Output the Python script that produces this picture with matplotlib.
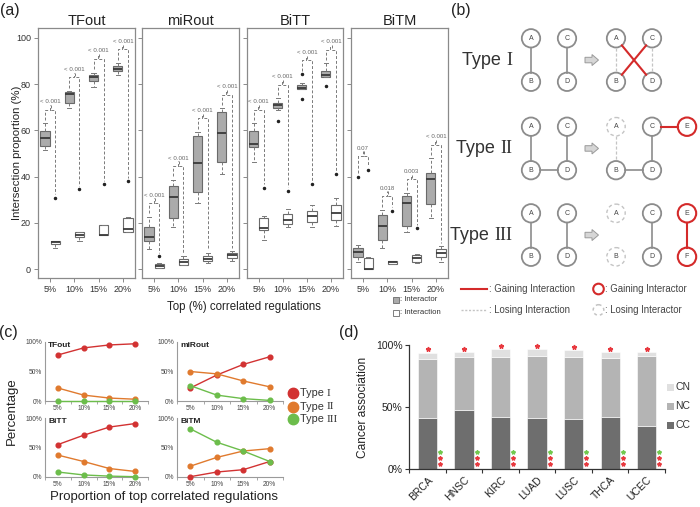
import numpy as np
import matplotlib.pyplot as plt
from matplotlib.patches import Circle, FancyArrow, Rectangle

plt.rcParams['font.family'] = ['Liberation Sans', 'DejaVu Sans']
plt.rcParams['mathtext.fontset'] = 'stix'

# ---------------- (a) box plots ----------------
panels = ['TFout', 'miRout', 'BiTT', 'BiTM']
pct = ['5%', '10%', '15%', '20%']

# [whislo, q1, med, q3, whishi] for each top-% level
tfout_actor = [[51.5, 53.2, 56.6, 59.7, 63.0], [69.8, 71.7, 75.7, 76.7, 77.0],
               [78.9, 81.4, 82.9, 83.9, 85.0], [84.0, 85.5, 86.6, 87.8, 89.0]]
tfout_action = [[9.0, 11.0, 11.6, 12.2, 12.3], [12.3, 14.1, 15.0, 16.1, 16.1],
                [14.8, 14.8, 15.0, 19.1, 19.3], [16.0, 16.1, 17.3, 22.1, 22.5]]
mirout_actor = [[8.8, 12.2, 14.1, 18.4, 22.7], [18.4, 22.0, 31.4, 36.0, 38.6],
                [28.8, 33.5, 46.0, 57.6, 59.2], [41.0, 46.3, 58.7, 67.8, 69.5]]
mirout_action = [[0.5, 0.6, 1.2, 2.3, 2.8], [1.7, 1.7, 3.0, 4.3, 5.7],
                 [2.5, 3.4, 4.5, 5.7, 7.0], [3.7, 4.9, 6.0, 7.2, 7.7]]
bitt_actor = [[46.5, 52.7, 54.0, 59.8, 63.0], [69.0, 69.5, 70.9, 71.7, 73.8],
              [77.7, 77.7, 78.5, 79.4, 80.6], [82.9, 82.9, 84.0, 85.6, 88.9]]
bitt_action = [[12.6, 17.0, 18.0, 22.0, 23.0], [18.4, 19.6, 21.3, 23.7, 25.9],
               [18.3, 20.4, 23.0, 25.3, 27.8], [18.6, 21.3, 24.2, 27.6, 30.7]]
bitm_actor = [[3.3, 5.4, 7.6, 9.1, 10.5], [9.3, 12.6, 18.7, 23.4, 25.6],
              [16.1, 18.7, 28.5, 31.6, 32.8], [22.0, 28.1, 38.9, 41.7, 47.9]]
bitm_action = [[0.1, 0.1, 0.3, 5.0, 5.4], [2.3, 2.3, 3.0, 3.7, 3.7],
               [2.8, 3.3, 4.8, 6.2, 6.6], [3.3, 5.2, 7.2, 8.6, 10.0]]

# outliers
tfout_actor_out = [[], [], [], []]
tfout_action_out = [[30.9], [34.5], [36.7], [38.1]]
mirout_actor_out = [[], [], [], []]
mirout_action_out = [[5.7], [], [], []]
bitt_actor_out = [[], [64.0], [84.3, 73.5], [79.1]]
bitt_action_out = [[35.2], [33.9], [36.7], [41.0]]
bitm_actor_out = [[40.0], [], [], []]
bitm_action_out = [[42.9], [25.3], [17.7], []]

pvals = [['< 0.001'] * 4, ['< 0.001'] * 4, ['< 0.001'] * 4,
         ['0.07', '0.018', '0.003', '< 0.001']]

actor = [tfout_actor, mirout_actor, bitt_actor, bitm_actor]
action = [tfout_action, mirout_action, bitt_action, bitm_action]
actor_out = [tfout_actor_out, mirout_actor_out, bitt_actor_out, bitm_actor_out]
action_out = [tfout_action_out, mirout_action_out, bitt_action_out, bitm_action_out]

# ---------------- (c) type percentages ----------------
numerals = ['I', 'II', 'III']
type1 = {'TFout': [78, 90, 95, 97], 'miRout': [22, 44, 62, 75],
         'BiTT': [55, 71, 85, 91], 'BiTM': [0, 8, 12, 26]}
type2 = {'TFout': [22, 10, 5, 3], 'miRout': [50, 46, 34, 24],
         'BiTT': [37, 26, 14, 9], 'BiTM': [18, 33, 44, 48]}
type3 = {'TFout': [0, 0, 0, 0], 'miRout': [26, 10, 4, 1],
         'BiTT': [8, 3, 1, 0], 'BiTM': [82, 59, 44, 26]}

# ---------------- (d) cancer association ----------------
cancers = ['BRCA', 'HNSC', 'KIRC', 'LUAD', 'LUSC', 'THCA', 'UCEC']
cc = [41.4, 47.6, 42.2, 41.4, 40.3, 42.2, 34.7]
nc = [47.3, 43.0, 48.4, 49.7, 50.3, 47.0, 56.4]
cn = [5.1, 3.5, 5.9, 5.7, 5.4, 4.9, 3.0]

W, H = 700, 507
fig = plt.figure(figsize=(7, 5.07), dpi=100)


def px_axes(x0, y0, x1, y1):
    return fig.add_axes([x0 / W, 1 - y1 / H, (x1 - x0) / W, (y1 - y0) / H])


frame = '#8a8a8a'
line_grey = '#7a7a7a'
red = '#d42a2a'

# ---- panel (a)
a_x = [(38, 135), (142, 239), (246.7, 343), (351, 448)]
x = np.arange(1, 5)
for k, name in enumerate(panels):
    ax = px_axes(a_x[k][0], 28.3, a_x[k][1], 278.3)
    common = dict(widths=0.38, patch_artist=True, capwidths=0.17,
                  medianprops=dict(color='#3a3a3a', lw=1.3),
                  whiskerprops=dict(color=line_grey, lw=0.7, ls=(0, (3, 2))),
                  capprops=dict(color=line_grey, lw=0.7),
                  flierprops=dict(marker='o', ms=1.5, mfc='#222', mec='#222'))
    st_g = [dict(whislo=v[0], q1=v[1], med=v[2], q3=v[3], whishi=v[4], fliers=f)
            for v, f in zip(actor[k], actor_out[k])]
    st_w = [dict(whislo=v[0], q1=v[1], med=v[2], q3=v[3], whishi=v[4], fliers=f)
            for v, f in zip(action[k], action_out[k])]
    ax.bxp(st_g, positions=x - 0.21,
           boxprops=dict(facecolor='#ababab', edgecolor='#6a6a6a', lw=0.8), **common)
    ax.bxp(st_w, positions=x + 0.21,
           boxprops=dict(facecolor='white', edgecolor='#6a6a6a', lw=0.8), **common)

    # brackets with p-values
    for i in range(4):
        top_l = max([actor[k][i][4]] + actor_out[k][i]) + 1.5
        top_r = max([action[k][i][4]] + action_out[k][i]) + 1.5
        lev = max(top_l, top_r) + 4.5
        xl, xr, xm = x[i] - 0.21, x[i] + 0.21, x[i]
        ax.plot([xl, xl, xm - 0.025, xm - 0.025], [top_l, lev, lev, lev + 2],
                color=line_grey, lw=0.7, ls=(0, (3, 2)))
        ax.plot([xm + 0.025, xm + 0.025, xr, xr], [lev + 2, lev, lev, top_r],
                color=line_grey, lw=0.7, ls=(0, (3, 2)))
        ax.text(xm, lev + 2.3, pvals[k][i], ha='center', va='bottom',
                fontsize=4.4, color='#666666')

    ax.set_xlim(0.5, 4.5)
    ax.set_ylim(-3.9, 104.1)
    ax.set_xticks(x)
    ax.set_xticklabels(pct)
    ax.set_yticks([0, 20, 40, 60, 80, 100])
    if k > 0:
        ax.set_yticklabels([])
    ax.tick_params(direction='out', length=3, width=0.7, color=frame,
                   labelsize=6.5, pad=2, labelcolor='#333333')
    for s in ax.spines.values():
        s.set_color(frame)
        s.set_linewidth(0.9)
    ax.set_title(name, fontsize=10.5, pad=2.5, color='#222222')

fig.text(17 / W, 1 - 153 / H, 'Intersection proportion (%)', rotation=90,
         ha='center', va='center', fontsize=8.2, color='#222222')
fig.text(244 / W, 1 - 307 / H, 'Top (%) correlated regulations',
         ha='center', va='center', fontsize=8.3, color='#222222')

# ---- panel (c)
c_pos = {'TFout': (45, 342, 148, 401), 'miRout': (177, 342, 283, 401),
         'BiTT': (45, 418.3, 148, 476.7), 'BiTM': (177, 418.3, 283, 476.7)}
type_colors = ['#d23232', '#e07a2e', '#6cbd4b']
for name in panels:
    ax = px_axes(*c_pos[name])
    for vals, col in zip([type1[name], type2[name], type3[name]], type_colors):
        ax.plot(x, vals, color=col, lw=1.0, marker='o', ms=3.4, clip_on=False, zorder=3)
    ax.set_xlim(0.5, 4.5)
    ax.set_ylim(0, 100)
    ax.set_yticks([0, 50, 100])
    ax.set_yticklabels(['0%', '50%', '100%'])
    ax.set_xticks(x)
    ax.set_xticklabels(pct)
    ax.set_xticks(np.arange(0.5, 4.6, 1), minor=True)
    ax.tick_params(axis='x', which='major', length=0, pad=3)
    ax.tick_params(axis='x', which='minor', length=2, width=0.6, color='#999999')
    ax.tick_params(axis='y', length=0, pad=2)
    ax.tick_params(labelsize=4.8, labelcolor='#444444')
    for s in ['top', 'right']:
        ax.spines[s].set_visible(False)
    for s in ['left', 'bottom']:
        ax.spines[s].set_color('#9a9a9a')
        ax.spines[s].set_linewidth(0.8)
    ax.text(0.03, 0.94, name, transform=ax.transAxes, fontsize=6,
            fontweight='bold', va='center', ha='left', color='#222222')

fig.text(12 / W, 1 - 411 / H, 'Percentage', rotation=90, ha='center',
         va='center', fontsize=9.5, color='#222222')
fig.text(164 / W, 1 - 497 / H, 'Proportion of top correlated regulations',
         ha='center', va='center', fontsize=9.5, color='#222222')

# ---- panel (d)
axd = px_axes(409.3, 345, 665, 469)
xd = np.arange(len(cancers))
cc_a, nc_a, cn_a = np.array(cc), np.array(nc), np.array(cn)
bar_cols = {'CC': '#6e6e6e', 'NC': '#b4b4b4', 'CN': '#e0e0e0'}
axd.bar(xd, cc_a, width=0.53, color=bar_cols['CC'], edgecolor='white', lw=0.4)
axd.bar(xd, nc_a, width=0.53, bottom=cc_a, color=bar_cols['NC'], edgecolor='white', lw=0.4)
axd.bar(xd, cn_a, width=0.53, bottom=cc_a + nc_a, color=bar_cols['CN'], edgecolor='white', lw=0.4)
star_red, star_green = '#e8393f', '#72c94f'
axd.plot(xd, cc_a + nc_a + cn_a + 2.7, '*', color=star_red, ms=3.4, clip_on=False)
axd.plot(xd + 0.34, [13.7] * len(xd), '*', color=star_green, ms=3.0, clip_on=False)
axd.plot(xd + 0.34, [8.7] * len(xd), '*', color=star_red, ms=3.0, clip_on=False)
axd.plot(xd + 0.34, [3.8] * len(xd), '*', color=star_red, ms=3.0, clip_on=False)
axd.set_xlim(-0.5, 6.5)
axd.set_ylim(0, 100)
axd.set_yticks([0, 50, 100])
axd.set_yticklabels(['0%', '50%', '100%'])
axd.set_xticks(xd)
axd.set_xticklabels(cancers, rotation=45, ha='right', rotation_mode='anchor')
axd.set_xticks(np.arange(-0.5, 6.6, 1), minor=True)
axd.tick_params(axis='x', which='major', length=0, pad=4)
axd.tick_params(axis='x', which='minor', length=3, width=0.8, color='#333333')
axd.tick_params(axis='y', length=3, width=0.8, color='#333333', pad=2)
axd.tick_params(labelsize=7.5, labelcolor='#222222')
for s in ['top', 'right']:
    axd.spines[s].set_visible(False)
for s in ['left', 'bottom']:
    axd.spines[s].set_color('#333333')
    axd.spines[s].set_linewidth(0.9)
fig.text(363 / W, 1 - 407 / H, 'Cancer association', rotation=90, ha='center',
         va='center', fontsize=8.6, color='#222222')

# ---- overlay in pixel space: panel labels, legends and diagram (b)
ov = fig.add_axes([0, 0, 1, 1])
ov.set_xlim(0, W)
ov.set_ylim(H, 0)
ov.axis('off')

for lab, (lx, ly) in {'(a)': (10, 10), '(b)': (461, 10), '(c)': (8, 332), '(d)': (349, 332)}.items():
    ov.text(lx, ly, lab, ha='center', va='center', fontsize=11.5, color='#222222')


def type_label(xr, y, num, size, **kw):
    # sans "Type" followed by a serif roman numeral
    t = ov.text(xr, y, num, ha='right', va='center', fontsize=size,
                family='Liberation Serif', color='#333333', **kw)
    ov.annotate('Type ', xy=(0, 0.5), xycoords=t, ha='right', va='center',
                fontsize=size, color='#333333')
    return t


# legend (a)
ov.add_patch(Rectangle((393, 296.5), 6, 6, fc='#ababab', ec='#6a6a6a', lw=0.6))
ov.add_patch(Rectangle((393, 309.5), 6, 6, fc='white', ec='#6a6a6a', lw=0.6))
ov.text(400, 299.5, ': Interactor', va='center', fontsize=5.6, color='#333333')
ov.text(400, 312.5, ': Interaction', va='center', fontsize=5.6, color='#333333')

# legend (c)
for num, col, ly in zip(numerals, type_colors, [393.3, 406.7, 419.3]):
    ov.plot(293.3, ly, 'o', color=col, ms=7.5)
    t = ov.text(300, ly, 'Type ', va='center', ha='left', fontsize=7.8, color='#333333')
    ov.annotate(num, xy=(1, 0.5), xycoords=t, ha='left', va='center',
                fontsize=8.2, family='Liberation Serif', color='#333333')

# legend (d)
for lab, ly in zip(['CN', 'NC', 'CC'], [387.3, 406, 425]):
    ov.add_patch(Rectangle((667, ly - 3.5), 7, 7, fc=bar_cols[lab], ec='none'))
    ov.text(675.5, ly, lab, va='center', fontsize=7.5, color='#333333')

# diagram (b)
R = 9.2
node_grey = '#8c8c8c'
lose_grey = '#c4c4c4'
colx = {'A': 531, 'C': 567, 'A2': 616, 'C2': 652, 'E': 687}
row_y = [38.3, 126.7, 213.3]
gap = 43.5


def node(cx, cy, lab, kind='solid'):
    if kind == 'solid':
        c = Circle((cx, cy), R, fc='white', ec=node_grey, lw=1.3)
    elif kind == 'lose':
        c = Circle((cx, cy), R, fc='white', ec=lose_grey, lw=1.0, ls=(0, (2.5, 2)))
    else:
        c = Circle((cx, cy), R, fc='white', ec=red, lw=1.5)
    ov.add_patch(c)
    ov.text(cx, cy, lab, ha='center', va='center', fontsize=5, color='#444444', zorder=5)


def link(p, q, kind='solid'):
    p, q = np.array(p, float), np.array(q, float)
    d = (q - p) / np.hypot(*(q - p))
    p, q = p + d * R, q - d * R
    if kind == 'solid':
        ov.plot([p[0], q[0]], [p[1], q[1]], color=node_grey, lw=1.2)
    elif kind == 'lose':
        ov.plot([p[0], q[0]], [p[1], q[1]], color=lose_grey, lw=0.9, ls=(0, (2.5, 1.5)))
    else:
        ov.plot([p[0], q[0]], [p[1], q[1]], color=red, lw=1.5)


for r, ty in enumerate(row_y):
    by = ty + gap
    A, B, C, D = (colx['A'], ty), (colx['A'], by), (colx['C'], ty), (colx['C'], by)
    A2, B2, C2, D2 = (colx['A2'], ty), (colx['A2'], by), (colx['C2'], ty), (colx['C2'], by)
    E, F = (colx['E'], ty), (colx['E'], by)
    # before
    link(A, B)
    link(C, D)
    if r == 1:
        link(B, D)
    for p, lab in zip([A, B, C, D], 'ABCD'):
        node(*p, lab)
    # arrow
    ov.add_patch(FancyArrow(585, (ty + by) / 2, 13.5, 0, width=5.5, head_width=11,
                            head_length=6.5, length_includes_head=True,
                            fc='#d6d6d6', ec='#9a9a9a', lw=0.7))
    # after
    if r == 0:
        link(A2, B2, 'lose')
        link(C2, D2, 'lose')
        link(A2, D2, 'gain')
        link(C2, B2, 'gain')
        for p, lab in zip([A2, B2, C2, D2], 'ABCD'):
            node(*p, lab)
    elif r == 1:
        link(A2, B2, 'lose')
        link(C2, D2)
        link(B2, D2)
        link(C2, E, 'gain')
        node(*A2, 'A', 'lose')
        for p, lab in zip([B2, C2, D2], 'BCD'):
            node(*p, lab)
        node(*E, 'E', 'gain')
    else:
        link(C2, D2)
        link(E, F, 'gain')
        node(*A2, 'A', 'lose')
        node(*B2, 'B', 'lose')
        node(*C2, 'C')
        node(*D2, 'D')
        node(*E, 'E', 'gain')
        node(*F, 'F', 'gain')
    type_label(512, (ty + by) / 2, numerals[r], 13)

# legend (b)
ov.plot([461, 487], [289, 289], color=red, lw=1.5)
ov.text(489, 289, ': Gaining Interaction', va='center', fontsize=6.9, color='#444444')
ov.add_patch(Circle((598.5, 289), 5.3, fc='white', ec=red, lw=1.5))
ov.text(605, 289, ': Gaining Interactor', va='center', fontsize=6.9, color='#444444')
ov.plot([461, 487], [310, 310], color=lose_grey, lw=1.0, ls=(0, (1.5, 1.2)))
ov.text(489, 310, ': Losing Interaction', va='center', fontsize=6.9, color='#444444')
ov.add_patch(Circle((598.5, 310), 5.3, fc='white', ec=lose_grey, lw=1.1, ls=(0, (2, 2))))
ov.text(605, 310, ': Losing Interactor', va='center', fontsize=6.9, color='#444444')

fig.savefig('out.png', dpi=100)
